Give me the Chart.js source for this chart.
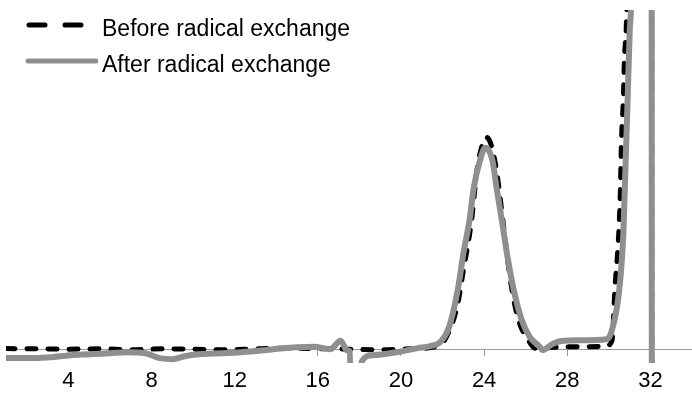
<!DOCTYPE html>
<html>
<head>
<meta charset="utf-8">
<script src="https://cdn.jsdelivr.net/npm/chart.js@4.4.0/dist/chart.umd.min.js"></script>
<style>
    html, body {
        margin: 0;
        padding: 0;
        background: #fff;
    }
    .wrap {
        position: relative;
        width: 692px;
        height: 395px;
    }
    .legend {
        position: absolute;
        left: 0;
        top: 0;
        font-family: "Liberation Sans", Arial, sans-serif;
        font-size: 23px;
        color: #000;
    }
    .legend-item {
        position: absolute;
        left: 24px;
        white-space: nowrap;
        display: flex;
        align-items: center;
    }
    .legend-item svg {
        margin-right: 4px;
    }
    .legend-item span {
        position: relative;
        top: 4px;
    }
</style>
</head>
<body>
<div class="wrap">
    <canvas id="chart" width="692" height="395"></canvas>
    <div class="legend">
        <div class="legend-item" style="top: 11px;">
            <svg width="74" height="26"><line x1="5" y1="13" x2="60" y2="13" stroke="#000" stroke-width="5" stroke-linecap="round" stroke-dasharray="16 20"/></svg>
            <span>Before radical exchange</span>
        </div>
        <div class="legend-item" style="top: 47px;">
            <svg width="74" height="26"><line x1="4" y1="13" x2="72" y2="13" stroke="#8f8f8f" stroke-width="5" stroke-linecap="round"/></svg>
            <span>After radical exchange</span>
        </div>
    </div>
</div>
<script>
// x axis labels
const xTicks = [4, 8, 12, 16, 20, 24, 28, 32];

// Before radical exchange (black dashed)
const beforeX = [1.0, 2.5, 4.0, 5.5, 7.0, 8.5, 10.0, 11.5, 13.0, 14.5, 16.0, 17.5, 19.0, 20.5, 21.5,
    22.0, 22.1, 22.7, 23.0, 23.4, 23.65, 23.9, 24.1, 24.35, 24.6, 24.9, 25.2, 25.45, 25.75, 26.05,
    26.45, 27.2, 28.0, 29.0, 29.8, 30.15, 30.3, 30.45, 30.55, 30.6, 30.7, 30.75, 30.85, 31.0, 32.05, 32.07];
const beforeY = [0.3, 0.2, 0, 0.2, -0.2, 0.2, 0, -0.3, 0.2, 0.5, 0.3, 0, -0.3, 0.2, 0.9,
    3, 4.2, 20, 37, 61, 84, 96, 100, 96, 84, 61, 37, 22, 11, 5.7,
    0.5, 0.8, 1.1, 1.2, 1.3, 4, 30, 50, 73, 96, 119, 137, 156, 250, 400, -100];

// After radical exchange (grey solid)
const afterX = [1.0, 2.1, 3.1, 4.1, 5.0, 6.0, 6.8, 7.7, 8.4, 9.0, 9.6, 10.3, 11.3, 12.3, 13.4,
    14.2, 15.0, 15.8, 16.6, 17.1, 17.4, 17.55, 17.6, 18.0, 18.1, 18.65, 19.8, 20.8, 21.4, 21.9,
    22.3, 22.75, 23.0, 23.3, 23.5, 23.8, 24.05, 24.4, 24.6, 24.85, 25.1, 25.4, 25.8, 26.2, 26.7,
    26.8, 27.2, 27.65, 28.6, 29.9, 30.15, 30.5, 30.7, 30.8, 30.9, 31.0, 31.1, 31.3, 32.05, 32.07];
const afterY = [-4.2, -4.2, -3.8, -2.8, -2.4, -1.9, -1.4, -1.9, -4.2, -4.7, -3.3, -2.4, -1.9, -1.4, -0.5,
    0.3, 0.9, 1.2, 0, 4, -0.5, -1, -60, -60, -6, -2.8, -1.4, 0.5, 1.5, 3.5,
    10, 29, 45, 61, 76, 89, 95, 89, 76, 61, 45, 29, 14, 5.7, 0.9,
    -0.5, 1.9, 3.8, 4.2, 4.7, 9, 28, 55, 86, 117, 149, 175, 400, 400, -100];

function toPoints(xs, ys) {
    return xs.map((x, i) => ({ x: x, y: ys[i] }));
}

function createChart() {
    const ctx = document.getElementById('chart').getContext('2d');

    new Chart(ctx, {
        type: 'line',
        data: {
            datasets: [
                {
                    label: 'After radical exchange',
                    data: toPoints(afterX, afterY),
                    borderColor: '#8f8f8f',
                    borderWidth: 6,
                    pointRadius: 0,
                    cubicInterpolationMode: 'monotone',
                    borderCapStyle: 'round',
                    borderJoinStyle: 'round',
                    order: 0
                },
                {
                    label: 'Before radical exchange',
                    data: toPoints(beforeX, beforeY),
                    borderColor: '#000',
                    borderWidth: 5,
                    borderDash: [9, 12],
                    borderCapStyle: 'round',
                    borderJoinStyle: 'round',
                    pointRadius: 0,
                    cubicInterpolationMode: 'monotone',
                    order: 1
                }
            ]
        },
        options: {
            responsive: false,
            animation: false,
            layout: {
                padding: { left: 6, right: 0, top: 10, bottom: 32 }
            },
            plugins: {
                legend: { display: false },
                tooltip: { enabled: false }
            },
            scales: {
                x: {
                    type: 'linear',
                    position: { y: 0 },
                    min: 1,
                    max: 34,
                    afterBuildTicks: axis => {
                        axis.ticks = xTicks.map(v => ({ value: v }));
                    },
                    border: {
                        display: true,
                        color: '#999',
                        width: 1
                    },
                    grid: {
                        drawOnChartArea: false,
                        drawTicks: true,
                        tickLength: 6,
                        color: '#999'
                    },
                    ticks: {
                        color: '#000',
                        padding: 13,
                        maxRotation: 0,
                        font: {
                            family: '"Liberation Sans", Arial, sans-serif',
                            size: 22
                        }
                    }
                },
                y: {
                    display: false,
                    min: -6.5,
                    max: 160
                }
            }
        }
    });
}

document.addEventListener('DOMContentLoaded', () => {
    createChart();
});
</script>
</body>
</html>
